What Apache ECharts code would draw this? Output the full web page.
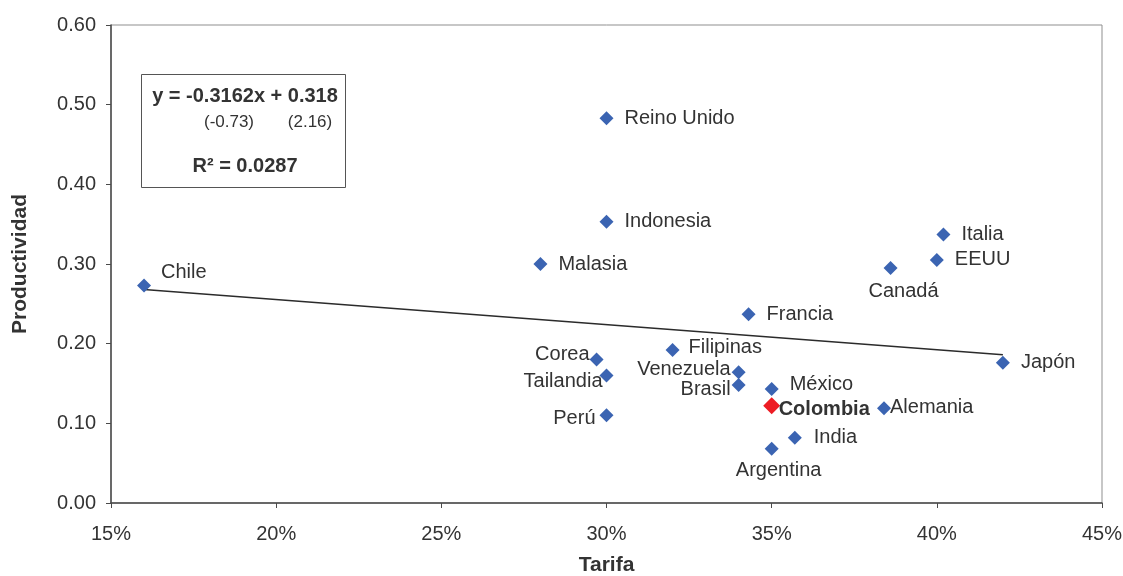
<!DOCTYPE html>
<html>
<head>
<meta charset="utf-8">
<script src="https://cdn.jsdelivr.net/npm/echarts@6/dist/echarts.min.js"></script>
<style>html,body{margin:0;padding:0;background:#fff}#c{width:1123px;height:576px}</style>
</head>
<body>
<div id="c"></div>
<script>
// ---- data ----
var countries = ['Chile','Reino Unido','Indonesia','Malasia','Corea','Tailandia','Perú','Filipinas','Venezuela','Brasil','México','Francia','Argentina','India','Alemania','Canadá','EEUU','Italia','Japón'];
var tarifa = [16, 30, 30, 28, 29.7, 30, 30, 32, 34, 34, 35, 34.3, 35, 35.7, 38.4, 38.6, 40, 40.2, 42];
var productividad = [0.273, 0.483, 0.353, 0.300, 0.180, 0.160, 0.110, 0.192, 0.164, 0.148, 0.143, 0.237, 0.068, 0.082, 0.119, 0.295, 0.305, 0.337, 0.176];
var colombiaName = 'Colombia';
var colombiaTarifa = 35;
var colombiaProd = 0.122;
var trendX = [16, 42];
var trendY = [0.268, 0.186];
var xTicks = [15, 20, 25, 30, 35, 40, 45];
var yTicks = [0, 0.1, 0.2, 0.3, 0.4, 0.5, 0.6];

// ---- label placement (style, not data) ----
var labelPlace = {
  'Chile': ['left', 17, -13],
  'Reino Unido': ['left', 18, 0],
  'Indonesia': ['left', 18, 0],
  'Malasia': ['left', 18, 0],
  'Corea': ['right', -7, -5],
  'Tailandia': ['right', -4, 6],
  'Perú': ['right', -11, 3],
  'Filipinas': ['left', 16, -3],
  'Venezuela': ['right', -8, -3],
  'Brasil': ['right', -8, 4],
  'México': ['left', 18, -5],
  'Francia': ['left', 18, 0],
  'Argentina': ['center', 7, 22],
  'India': ['left', 19, 0],
  'Alemania': ['left', 6, -1],
  'Canadá': ['center', 13, 24],
  'EEUU': ['left', 18, -1],
  'Italia': ['left', 18, 0],
  'Japón': ['left', 18, 0]
};

var FONT = "'Liberation Sans', Arial, sans-serif";
var TXT = '#333333';

var pts = countries.map(function (n, i) {
  var p = labelPlace[n];
  return {
    name: n,
    value: [tarifa[i], productividad[i]],
    label: { show: true, position: 'inside', align: p[0], verticalAlign: 'middle', offset: [p[1], p[2]] }
  };
});

var trend = trendX.map(function (x, i) { return [x, trendY[i]]; });

var chart = echarts.init(document.getElementById('c'), null, { renderer: 'canvas' });
chart.setOption({
  animation: false,
  backgroundColor: '#ffffff',
  textStyle: { fontFamily: FONT },
  grid: { left: 111, right: 21, top: 25, bottom: 73, show: true, borderColor: '#8f8f8f', borderWidth: 1, backgroundColor: '#ffffff', containLabel: false, outerBoundsMode: 'none' },
  xAxis: {
    type: 'value', min: xTicks[0], max: xTicks[xTicks.length - 1], interval: 5,
    name: 'Tarifa', nameLocation: 'middle', nameGap: 52,
    nameTextStyle: { fontFamily: FONT, fontSize: 21, fontWeight: 'bold', color: TXT },
    axisLine: { show: true, lineStyle: { color: '#4a4a4a', width: 1.5 } },
    axisTick: { show: true, inside: false, length: 5, lineStyle: { color: '#4a4a4a' } },
    axisLabel: { fontFamily: FONT, fontSize: 20, color: TXT, margin: 21, formatter: '{value}%' },
    splitLine: { show: false }
  },
  yAxis: {
    type: 'value', min: yTicks[0], max: yTicks[yTicks.length - 1], interval: 0.1,
    name: 'Productividad', nameLocation: 'middle', nameGap: 80, nameRotate: 90,
    nameTextStyle: { fontFamily: FONT, fontSize: 21, fontWeight: 'bold', color: TXT },
    axisLine: { show: true, lineStyle: { color: '#4a4a4a', width: 1.5 } },
    axisTick: { show: true, inside: false, length: 5, lineStyle: { color: '#4a4a4a' } },
    axisLabel: { fontFamily: FONT, fontSize: 20, color: TXT, margin: 15, formatter: function (v) { return v.toFixed(2); } },
    splitLine: { show: false }
  },
  series: [
    {
      type: 'line', data: trend, symbol: 'none', silent: true,
      lineStyle: { color: '#2b2b2b', width: 1.5 }, z: 2
    },
    {
      type: 'scatter', data: pts, symbol: 'diamond', symbolSize: 14,
      itemStyle: { color: '#3b64b2', opacity: 1 },
      label: { fontFamily: FONT, fontSize: 20, color: TXT, formatter: '{b}' },
      z: 3
    },
    {
      type: 'scatter', data: [{ name: colombiaName, value: [colombiaTarifa, colombiaProd] }],
      symbol: 'diamond', symbolSize: 17,
      itemStyle: { color: '#ed1c24', opacity: 1 },
      label: { show: true, position: 'inside', align: 'left', verticalAlign: 'middle', offset: [7, 4],
        fontFamily: FONT, fontSize: 20, fontWeight: 'bold', color: TXT, formatter: '{b}' },
      z: 4
    }
  ],
  graphic: [
    { type: 'rect', shape: { x: 141.5, y: 74.5, width: 204, height: 113 }, style: { fill: '#ffffff', stroke: '#555555', lineWidth: 1 }, z: 10 },
    { type: 'text', x: 245, y: 96, style: { text: 'y = -0.3162x + 0.318', font: "bold 20px 'Liberation Sans', Arial", fill: TXT, textAlign: 'center', textVerticalAlign: 'middle' }, z: 11 },
    { type: 'text', x: 229, y: 122, style: { text: '(-0.73)', font: "17px 'Liberation Sans', Arial", fill: TXT, textAlign: 'center', textVerticalAlign: 'middle' }, z: 11 },
    { type: 'text', x: 310, y: 122, style: { text: '(2.16)', font: "17px 'Liberation Sans', Arial", fill: TXT, textAlign: 'center', textVerticalAlign: 'middle' }, z: 11 },
    { type: 'text', x: 245, y: 166, style: { text: 'R² = 0.0287', font: "bold 20px 'Liberation Sans', Arial", fill: TXT, textAlign: 'center', textVerticalAlign: 'middle' }, z: 11 }
  ]
});
</script>
</body>
</html>
